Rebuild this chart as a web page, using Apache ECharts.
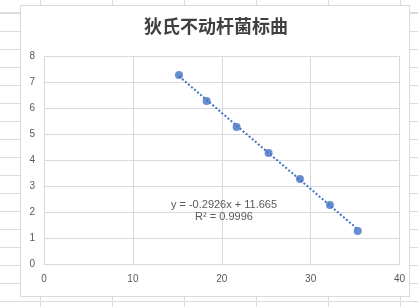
<!DOCTYPE html>
<html><head><meta charset="utf-8">
<script src="https://cdn.jsdelivr.net/npm/echarts@6/dist/echarts.min.js"></script>
<style>
html,body{margin:0;padding:0;width:418px;height:307px;overflow:hidden;background:#fff;}
#sheet{position:absolute;left:0;top:0;width:418px;height:307px;
background-image:
 repeating-linear-gradient(to right,#dcdcdc 0 1px,transparent 1px 72px),
 repeating-linear-gradient(to bottom,#dcdcdc 0 1px,transparent 1px 18px);
background-position:40px 0,0 13px;}
#box{position:absolute;left:20px;top:5px;width:390px;height:292px;box-sizing:border-box;border:1px solid #d9d9d9;background:#fff;}
#chart{position:absolute;left:0;top:0;width:418px;height:307px;}
</style></head>
<body>
<div id="sheet"></div><div id="box"></div><div id="chart"></div>
<script>
const title = '狄氏不动杆菌标曲';
const xValues = [15.19, 18.3, 21.67, 25.27, 28.8, 32.17, 35.3];
const yValues = [7.27, 6.27, 5.27, 4.27, 3.27, 2.27, 1.27];
const slope = -0.2926;
const intercept = 11.665;
const r2 = 0.9996;
const xTicks = [0, 40, 10];
const yTicks = [0, 8, 1];

const pts = xValues.map((x, i) => [x, yValues[i]]);
const xMin = Math.min(...xValues), xMax = Math.max(...xValues);
const trend = [[xMin, slope * xMin + intercept], [xMax, slope * xMax + intercept]];

const chart = echarts.init(document.getElementById('chart'), null, {renderer: 'canvas'});
const labelStyle = {color: '#595959', fontSize: 10, fontFamily: 'Liberation Sans, Arial, sans-serif'};
chart.setOption({
  backgroundColor: 'transparent',
  animation: false,
  grid: {left: 44, right: 18.5, top: 56, bottom: 43, containLabel: false},
  xAxis: {type: 'value', min: xTicks[0], max: xTicks[1], interval: xTicks[2],
    axisLine: {show: true, lineStyle: {color: '#d9d9d9'}}, axisTick: {show: false},
    axisLabel: Object.assign({margin: 10}, labelStyle),
    splitLine: {show: true, lineStyle: {color: '#d9d9d9'}}},
  yAxis: {type: 'value', min: yTicks[0], max: yTicks[1], interval: yTicks[2],
    axisLine: {show: true, lineStyle: {color: '#d9d9d9'}}, axisTick: {show: false},
    axisLabel: Object.assign({margin: 9}, labelStyle),
    splitLine: {show: true, lineStyle: {color: '#d9d9d9'}}},
  series: [
    {type: 'line', data: trend, symbol: 'none', silent: true,
     lineStyle: {color: '#4472C4', width: 2, type: [2, 2]}, z: 2},
    {type: 'scatter', data: pts, symbol: 'circle', symbolSize: 8,
     itemStyle: {color: '#4472C4'}, z: 3}
  ],
  graphic: [
    {type: 'text', x: 216, y: 26, z: 10,
     style: {text: title, fill: '#404040', font: 'bold 18px "Noto Sans CJK SC"', textAlign: 'center', textVerticalAlign: 'middle'}},
    {type: 'text', x: 224, y: 205, z: 10,
     style: {text: 'y = ' + slope + 'x + ' + intercept, fill: '#595959', font: '11px "Liberation Sans", Arial, sans-serif', textAlign: 'center', textVerticalAlign: 'middle'}},
    {type: 'text', x: 224, y: 217, z: 10,
     style: {text: 'R² = ' + r2, fill: '#595959', font: '11px "Liberation Sans", Arial, sans-serif', textAlign: 'center', textVerticalAlign: 'middle'}}
  ]
});
</script>
</body></html>
